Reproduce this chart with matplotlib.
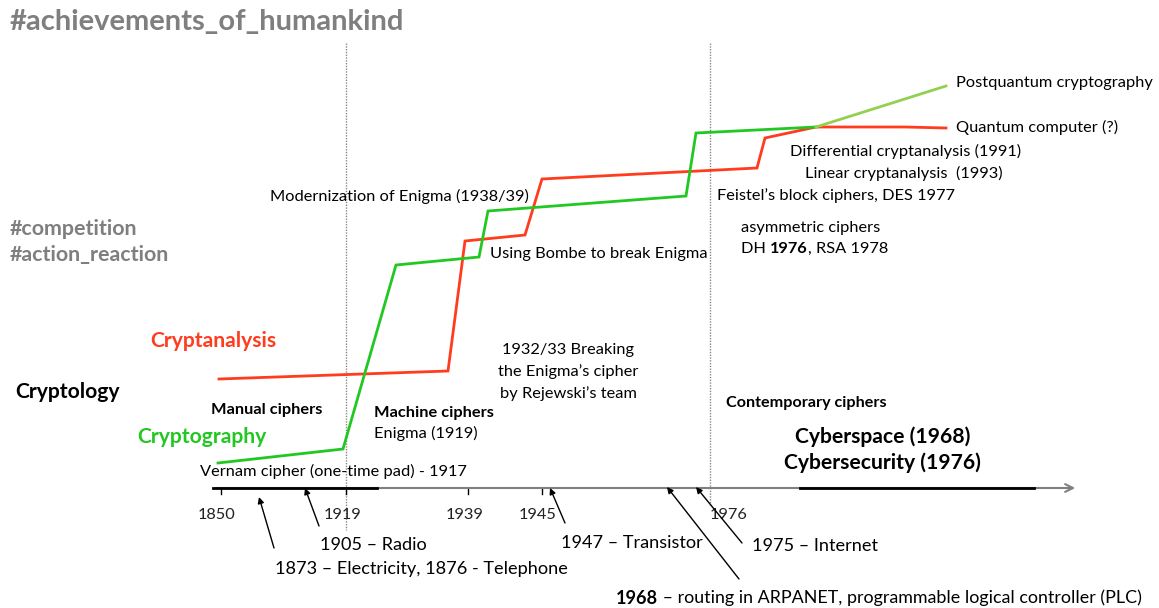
import matplotlib.pyplot as plt

plt.rcParams['font.family'] = ['Lato', 'DejaVu Sans']

# Schematic coordinates (x to the right, y downward)
green_x = [218, 343, 396, 479, 488, 686, 696, 816]
green_y = [463, 449, 265, 257, 211, 196, 133, 127]
postq_x = [816, 946]
postq_y = [127, 86]
red_x = [219, 448, 465, 525, 542, 757, 765, 816, 905, 946]
red_y = [379, 371, 241, 235, 179, 168, 138, 127, 127, 128]

# timeline
tick_x = [221, 346, 468, 542]
tick_labels = ['1850', '1919', '1939', '1945', '1976']
tick_label_x = [217, 343, 465, 538, 729]
era_lines_x = [346, 710]

# events: (tail x, tail y, head x, head y)
event_tail_x = [274, 319, 565, 739, 742]
event_tail_y = [548, 526, 523, 579, 543]
event_head_x = [259, 305, 550, 667, 696]
event_head_y = [497, 488, 488, 487, 487]

RED = '#ff3c1e'
GREEN = '#22c822'
LIGHT_GREEN = '#92d050'
GRAY = '#7f7f7f'

NORMAL = 11.8
BIG = 15.2
LOW = 13.1

fig = plt.figure(figsize=(11.59, 6.08), dpi=100)
ax = fig.add_axes([0, 0, 1, 1])
ax.set_xlim(0, 1159)
ax.set_ylim(608, 0)
ax.axis('off')

# era separators
for x, y_end in zip(era_lines_x, [530, 505]):
    ax.plot([x, x], [43, y_end], color='#888888', lw=1, ls=(0, (1, 1)), zorder=1)

# time axis
ax.annotate('', xy=(1078, 488), xytext=(213, 488),
            arrowprops=dict(arrowstyle='->', color=GRAY, lw=1.5, mutation_scale=14))
ax.plot([213, 377], [488, 488], color='black', lw=2, zorder=3)
ax.plot([800, 1034], [488, 488], color='black', lw=2, zorder=3)
for x in tick_x:
    ax.plot([x, x], [488, 494], color='black', lw=1)
for x, lab in zip(tick_label_x, tick_labels):
    ax.text(x, 515, lab, ha='center', va='center', fontsize=NORMAL, color='#222222')

# competing curves
ax.plot(red_x, red_y, color=RED, lw=2.0, solid_joinstyle='miter', zorder=4)
ax.plot(green_x, green_y, color=GREEN, lw=2.0, solid_joinstyle='miter', zorder=5)
ax.plot(postq_x, postq_y, color=LIGHT_GREEN, lw=2.0, zorder=5)

# event arrows
for tx, ty, hx, hy in zip(event_tail_x, event_tail_y, event_head_x, event_head_y):
    ax.annotate('', xy=(hx, hy), xytext=(tx, ty),
                arrowprops=dict(arrowstyle='-|>', color='black', lw=1, mutation_scale=9,
                                shrinkA=0, shrinkB=0))

# hashtags
ax.text(10, 22, '#achievements_of_humankind', fontsize=21, fontweight='bold', color=GRAY, va='center')
ax.text(10, 229, '#competition', fontsize=15.4, fontweight='bold', color=GRAY, va='center')
ax.text(10, 255, '#action_reaction', fontsize=15.4, fontweight='bold', color=GRAY, va='center')

# left side labels
ax.text(15, 392, 'Cryptology', fontsize=BIG, fontweight='bold', color='black', va='center')
ax.text(150, 341, 'Cryptanalysis', fontsize=BIG, fontweight='bold', color=RED, va='center')
ax.text(137, 437, 'Cryptography', fontsize=BIG, fontweight='bold', color=GREEN, va='center')

# eras
ax.text(211, 410, 'Manual ciphers', fontsize=NORMAL, fontweight='bold', va='center')
ax.text(374, 413, 'Machine ciphers', fontsize=NORMAL, fontweight='bold', va='center')
ax.text(374, 433, 'Enigma (1919)', fontsize=NORMAL, va='center')
ax.text(726, 403, 'Contemporary ciphers', fontsize=11.6, fontweight='bold', va='center')
ax.text(883, 437, 'Cyberspace (1968)', fontsize=BIG, fontweight='bold', ha='center', va='center')
ax.text(882, 463, 'Cybersecurity (1976)', fontsize=BIG, fontweight='bold', ha='center', va='center')

# milestones on the curves
ax.text(200, 471, 'Vernam cipher (one-time pad) - 1917', fontsize=NORMAL, va='center')
ax.text(270, 196, 'Modernization of Enigma (1938/39)', fontsize=NORMAL, va='center')
ax.text(490, 254, 'Using Bombe to break Enigma', fontsize=NORMAL, va='center')
ax.text(568, 372, '1932/33 Breaking\nthe Enigma\u2019s cipher\nby Rejewski\u2019s team',
        fontsize=NORMAL, ha='center', va='center', linespacing=1.6)
ax.text(956, 83, 'Postquantum cryptography', fontsize=NORMAL, va='center')
ax.text(956, 127, 'Quantum computer (?)', fontsize=NORMAL, va='center')
ax.text(790, 151, 'Differential cryptanalysis (1991)', fontsize=NORMAL, va='center')
ax.text(805, 173, 'Linear cryptanalysis  (1993)', fontsize=NORMAL, va='center')
ax.text(717, 196, 'Feistel\u2019s block ciphers, DES 1977', fontsize=NORMAL, va='center')
ax.text(741, 228, 'asymmetric ciphers', fontsize=NORMAL, va='center')
t = ax.text(741, 249, 'DH ', fontsize=NORMAL, va='center')
t = ax.annotate('1976', xy=(1, 0), xycoords=t, fontsize=NORMAL, fontweight='bold', va='bottom')
ax.annotate(', RSA 1978', xy=(1, 0), xycoords=t, fontsize=NORMAL, va='bottom')

# technology events under the axis
ax.text(320, 545, '1905 \u2013 Radio', fontsize=LOW, va='center')
ax.text(275, 569, '1873 \u2013 Electricity, 1876 - Telephone', fontsize=LOW, va='center')
ax.text(561, 543, '1947 \u2013 Transistor', fontsize=LOW, va='center')
ax.text(752, 546, '1975 \u2013 Internet', fontsize=LOW, va='center')
t = ax.text(616, 598, '1968', fontsize=LOW, fontweight='bold', va='center')
ax.annotate(' \u2013 routing in ARPANET, programmable logical controller (PLC)', xy=(1, 0),
            xycoords=t, fontsize=12.9, va='bottom')

fig.savefig('out.png', dpi=100)
